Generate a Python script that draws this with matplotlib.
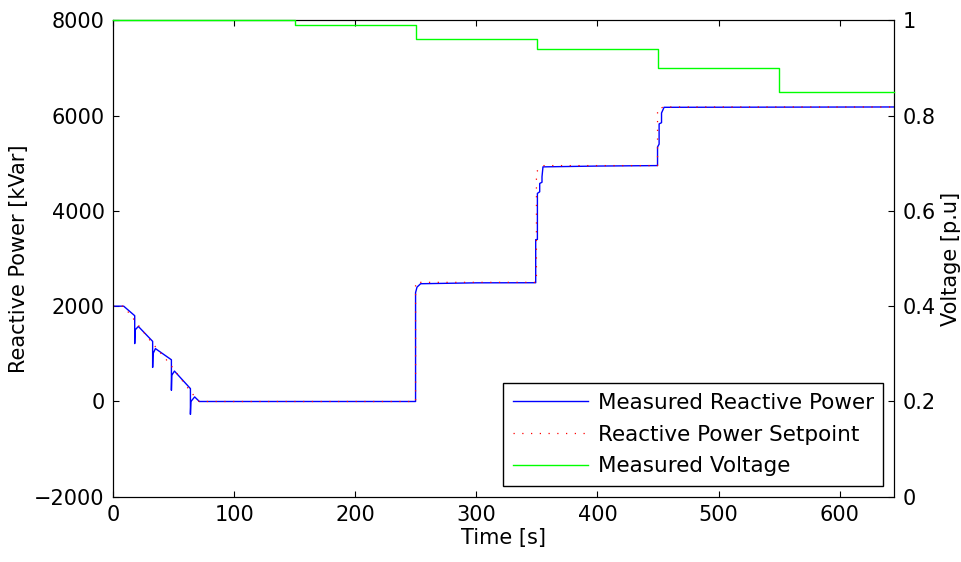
import matplotlib
matplotlib.use("Agg")
import matplotlib.pyplot as plt

# measured reactive power [kVar]
t_meas = [0, 8.8, 17.9, 17.9, 18.2, 20.9, 32.7, 32.7, 33.0, 35.0, 48.2, 48.2, 48.5, 50.7,
          63.9, 63.9, 64.3, 67.4, 71.3, 249.8, 249.8, 251.0, 254.0, 300.0, 349.0, 349.0,
          350.4, 350.4, 352.3, 352.3, 354.2, 354.2, 355.0, 400.0, 449.6, 449.6, 450.9,
          450.9, 452.9, 452.9, 455.0, 645.0]
q_meas = [2000, 2000, 1800, 1215, 1500, 1575, 1262, 715, 1000, 1110, 875, 235, 550, 638,
          270, -270, 0, 96, 0, 0, 2283, 2400, 2471, 2490, 2492, 3396,
          3400, 4367, 4400, 4575, 4600, 4715, 4923, 4940, 4950, 5340, 5400,
          5825, 5850, 6054, 6173, 6180]

# reactive power setpoint [kVar]
t_set = [0, 8.8, 19.7, 30.3, 46.7, 61.9, 68.3, 71.0, 249.8, 249.8, 349.6, 349.6, 355.0,
         449.6, 449.6, 455.0, 645.0]
q_set = [2000, 2000, 1640, 1290, 795, 280, 75, 0, 0, 2500, 2500, 4820, 4950,
         4950, 6140, 6180, 6180]

# measured voltage [p.u]
t_volt = [0, 150, 250, 350, 450, 550, 645]
v_volt = [1.0, 0.99, 0.96, 0.94, 0.90, 0.85, 0.85]

plt.rcParams["font.family"] = "DejaVu Sans"
plt.rcParams["font.size"] = 15
plt.rcParams["xtick.direction"] = "in"
plt.rcParams["ytick.direction"] = "in"
plt.rcParams["xtick.major.size"] = 4.5
plt.rcParams["ytick.major.size"] = 4.5
plt.rcParams["xtick.major.pad"] = 6
plt.rcParams["ytick.major.pad"] = 6

fig = plt.figure(figsize=(9.62, 5.62), dpi=100)
ax = fig.add_axes([0.1175, 0.116, 0.812, 0.848])
ax2 = ax.twinx()

l1, = ax.plot(t_meas, q_meas, color="b", lw=1, label="Measured Reactive Power")
l2, = ax.plot(t_set, q_set, color="r", lw=0.9, linestyle=(0, (1, 6)),
              label="Reactive Power Setpoint")
l3, = ax2.plot(t_volt, v_volt, color="#00ff00", lw=1, drawstyle="steps-post",
               label="Measured Voltage", clip_on=False, zorder=5)

ax.set_xlim(0, 645)
ax.set_ylim(-2000, 8000)
ax.set_yticks([-2000, 0, 2000, 4000, 6000, 8000])
ax.set_xticks([0, 100, 200, 300, 400, 500, 600])
ax.tick_params(top=True, right=False)
ax2.set_ylim(0, 1)
ax2.set_yticks([0, 0.2, 0.4, 0.6, 0.8, 1])
ax2.set_yticklabels(["0", "0.2", "0.4", "0.6", "0.8", "1"])

ax.set_xlabel("Time [s]", labelpad=2)
ax.set_ylabel("Reactive Power [kVar]")
ax2.set_ylabel("Voltage [p.u]")

leg = ax2.legend(handles=[l1, l2, l3], loc="lower right", fancybox=False,
                 framealpha=1, edgecolor="black", handlelength=3.5,
                 fontsize=15.5, handletextpad=0.45, borderpad=0.45,
                 labelspacing=0.55)
leg.get_frame().set_linewidth(1)
leg.set_zorder(10)

fig.savefig("out.png", dpi=100)
